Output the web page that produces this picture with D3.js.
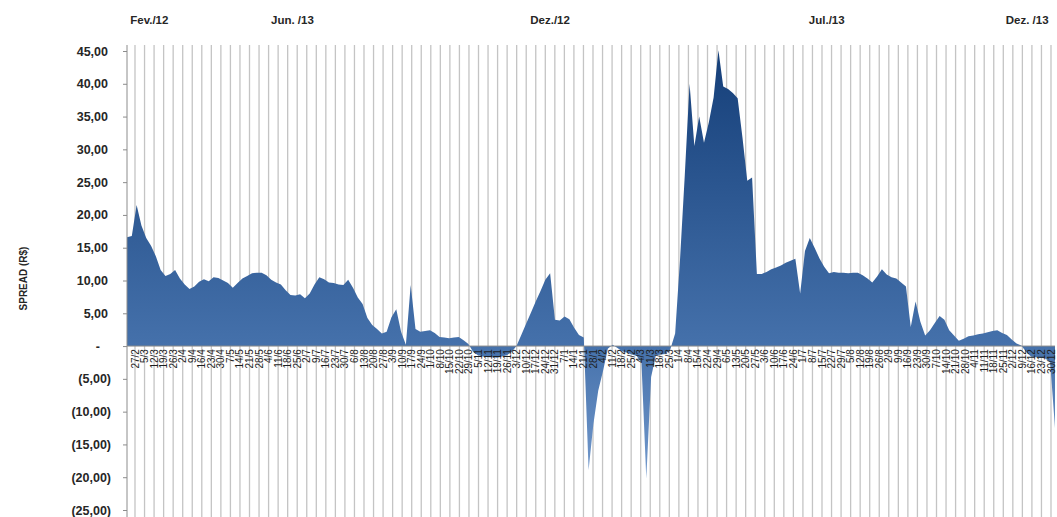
<!DOCTYPE html>
<html>
<head>
<meta charset="utf-8">
<script src="https://cdn.jsdelivr.net/npm/d3@7"></script>
<style>
  html, body { margin: 0; padding: 0; background: #ffffff; }
  svg { display: block; }
  text { font-family: "Liberation Sans", Arial, sans-serif; }
</style>
</head>
<body>
<svg id="chart" width="1057" height="517"></svg>
<script>
// Weekly category labels (Monday of each week), 27/2/2012 to 30/12/2013
const weekLabels = [
  "27/2","5/3","12/3","19/3","26/3","2/4","9/4","16/4","23/4","30/4",
  "7/5","14/5","21/5","28/5","4/6","11/6","18/6","25/6","2/7","9/7",
  "16/7","23/7","30/7","6/8","13/8","20/8","27/8","3/9","10/9","17/9",
  "24/9","1/10","8/10","15/10","22/10","29/10","5/11","12/11","19/11","26/11",
  "3/12","10/12","17/12","24/12","31/12","7/1","14/1","21/1","28/1","4/2",
  "11/2","18/2","25/2","4/3","11/3","18/3","25/3","1/4","8/4","15/4",
  "22/4","29/4","6/5","13/5","20/5","27/5","3/6","10/6","17/6","24/6",
  "1/7","8/7","15/7","22/7","29/7","5/8","12/8","19/8","26/8","2/9",
  "9/9","16/9","23/9","30/9","7/10","14/10","21/10","28/10","4/11","11/11",
  "18/11","25/11","2/12","9/12","16/12","23/12","30/12"
];

// Spread (R$), two readings per week
const spread = [
  16.6,16.8,21.5,18.4,16.5,15.3,13.7,11.6,10.7,11.0,
  11.6,10.3,9.4,8.7,9.1,9.8,10.2,9.9,10.5,10.4,
  10.0,9.6,8.9,9.6,10.3,10.7,11.1,11.2,11.2,10.8,
  10.1,9.7,9.4,8.5,7.8,7.7,7.9,7.3,8.0,9.4,
  10.5,10.2,9.7,9.6,9.4,9.3,10.1,8.9,7.4,6.4,
  4.3,3.2,2.6,1.9,2.2,4.4,5.6,2.2,0.2,9.3,
  2.6,2.2,2.3,2.4,2.0,1.4,1.3,1.2,1.3,1.4,
  0.9,0.3,-0.9,-1.4,-1.6,-1.7,-1.7,-1.8,-1.6,-1.4,
  -0.9,0.0,1.7,3.4,5.1,6.8,8.4,10.1,11.1,4.0,
  3.9,4.5,4.1,2.8,1.7,1.3,-18.9,-11.9,-6.8,-3.8,
  -0.4,0.2,-0.3,-0.8,-1.0,-1.3,-1.5,-2.6,-20.2,-4.7,
  -1.4,-1.3,-1.2,-0.5,1.9,13.0,26.0,40.0,30.5,35.0,
  31.0,34.1,37.9,45.1,39.6,39.2,38.6,37.8,31.8,25.2,
  25.7,11.0,11.0,11.3,11.7,12.0,12.3,12.7,13.0,13.3,
  8.0,14.5,16.5,15.0,13.4,12.1,11.1,11.3,11.2,11.2,
  11.1,11.2,11.2,10.8,10.3,9.7,10.6,11.7,10.9,10.5,
  10.3,9.7,9.1,2.9,6.8,3.7,1.6,2.4,3.5,4.6,
  4.0,2.4,1.6,0.8,1.1,1.5,1.6,1.8,1.9,2.1,
  2.3,2.4,2.0,1.7,1.0,0.4,0.1,-0.9,-1.6,-1.7,
  -1.8,-1.9,-2.5,-12.5
];

// Y axis ticks
const yTicks = [45,40,35,30,25,20,15,10,5,0,-5,-10,-15,-20,-25];

// Period captions along the top, each attached to a week label
const periodNames = ["Fev./12","Jun. /13","Dez./12","Jul./13","Dez. /13"];
const periodWeeks = ["5/3","18/6","24/12","15/7","9/12"];

const svg = d3.select("#chart");

const plotLeft = 127, plotRight = 1055, plotTop = 45, plotBottom = 517;

const y = d3.scaleLinear().domain([-25, 45]).range([510, 51]);
const x = d3.scaleLinear().domain([0, spread.length - 1]).range([plotLeft, plotRight]);
const xWeek = d3.scalePoint().domain(weekLabels.map((d, i) => i)).range([135, 1051]);
const step = xWeek.step();

// Gradient fill for the area
const defs = svg.append("defs");
const grad = defs.append("linearGradient")
  .attr("id", "spreadFill")
  .attr("gradientUnits", "userSpaceOnUse")
  .attr("x1", 0).attr("x2", 0)
  .attr("y1", y(45)).attr("y2", y(-25));
grad.append("stop").attr("offset", 0).attr("stop-color", "#153f79");
grad.append("stop").attr("offset", (y(0) - y(45)) / (y(-25) - y(45))).attr("stop-color", "#4571ab");
grad.append("stop").attr("offset", 1).attr("stop-color", "#7ea3d4");

// Vertical gridlines
svg.append("g")
  .selectAll("line")
  .data(weekLabels.map((d, i) => i))
  .join("line")
  .attr("x1", d => xWeek(d)).attr("x2", d => xWeek(d))
  .attr("y1", plotTop).attr("y2", plotBottom)
  .attr("stroke", "#c4c4c4")
  .attr("stroke-width", 1.3);

// Spread area
const area = d3.area()
  .x((d, i) => x(i))
  .y0(y(0))
  .y1(d => y(d));

svg.append("path")
  .datum(spread)
  .attr("d", area)
  .attr("fill", "url(#spreadFill)");

// Zero line
svg.append("line")
  .attr("x1", plotLeft).attr("x2", plotRight)
  .attr("y1", y(0)).attr("y2", y(0))
  .attr("stroke", "#8c8c8c").attr("stroke-width", 1);

// Y axis
const fmt = v => {
  if (v === 0) return "-";
  const s = d3.format(".2f")(Math.abs(v)).replace(".", ",");
  return v < 0 ? "(" + s + ")" : s;
};
const yAxis = svg.append("g")
  .attr("transform", `translate(${plotLeft},0)`)
  .call(d3.axisLeft(y).tickValues(yTicks).tickFormat(fmt).tickSize(4).tickSizeOuter(0));
yAxis.select(".domain").attr("stroke", "#8c8c8c").attr("d", `M0,${plotTop}V${plotBottom}`);
yAxis.selectAll(".tick line").attr("stroke", "#8c8c8c");
yAxis.selectAll(".tick text")
  .attr("x", d => d < 0 ? -16 : (d === 0 ? -27 : -19))
  .attr("fill", "#262626")
  .style("font-size", "12.5px")
  .style("font-weight", "bold")
  .style("font-family", "'Liberation Sans', Arial, sans-serif");

// Y axis title
svg.append("text")
  .attr("transform", `translate(24,${(y(45) + y(-25)) / 2 - 2}) rotate(-90)`)
  .attr("text-anchor", "middle")
  .attr("dominant-baseline", "middle")
  .style("font-size", "10px")
  .style("font-weight", "bold")
  .attr("fill", "#262626")
  .text("SPREAD (R$)");

// Week labels under the zero line, rotated
svg.append("g")
  .selectAll("text")
  .data(weekLabels)
  .join("text")
  .attr("transform", (d, i) => `translate(${xWeek(i)},${y(0) + 3}) rotate(-90)`)
  .attr("text-anchor", "end")
  .attr("dy", "0.35em")
  .style("font-size", "10px")
  .attr("fill", "#1e1e1e")
  .text(d => d);

// Period captions at the top
svg.append("g")
  .selectAll("text")
  .data(periodNames)
  .join("text")
  .attr("x", (d, i) => xWeek(weekLabels.indexOf(periodWeeks[i])) + step * 0.5)
  .attr("y", 24)
  .attr("text-anchor", "middle")
  .style("font-size", "11.5px")
  .style("font-weight", "bold")
  .attr("fill", "#262626")
  .text(d => d);
</script>
</body>
</html>
